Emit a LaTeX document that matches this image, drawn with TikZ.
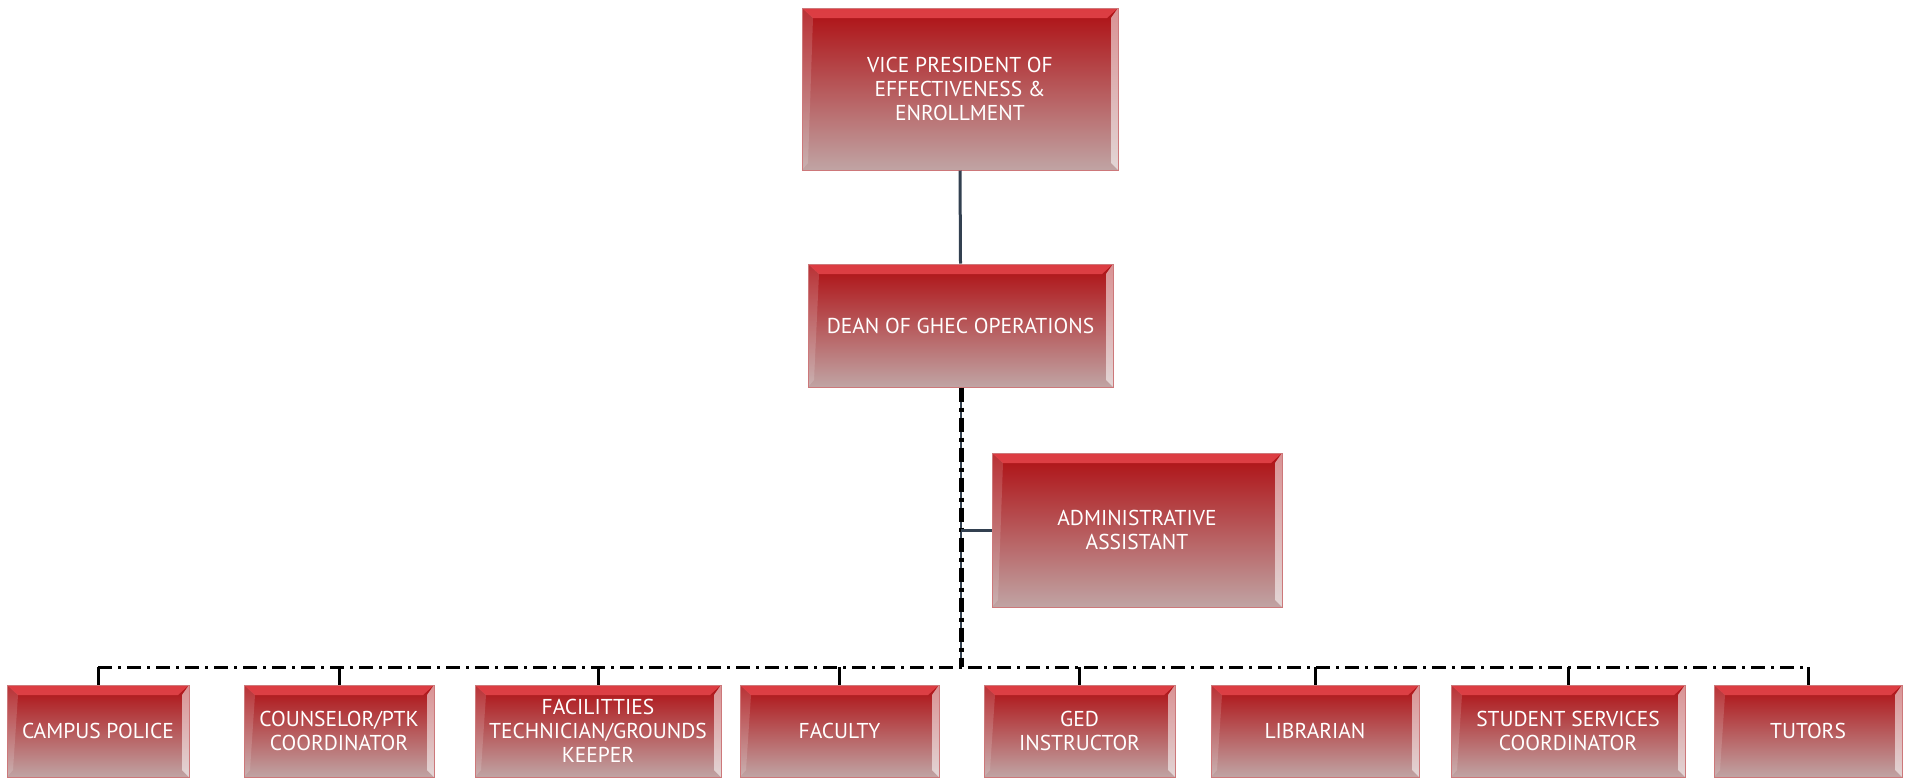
\documentclass[tikz,border=0pt]{standalone}
\usepackage{fontspec}
\setmainfont{PT Sans}
\definecolor{ctop}{RGB}{174,14,18}
\definecolor{cmid}{RGB}{166,70,72}
\definecolor{cbot}{RGB}{192,164,164}
\definecolor{cedge}{RGB}{205,120,122}
\definecolor{slate}{RGB}{50,64,80}
\definecolor{hilite}{RGB}{232,72,78}
\begin{document}
\begin{tikzpicture}[x=1pt,y=-1pt,
  bx/.style={rectangle, draw=cedge, line width=1pt, inner sep=0pt,
    top color=ctop, middle color=cmid, bottom color=cbot,
    text=white, align=center,
    font=\fontsize{21.5}{24}\selectfont,
    path picture={
      \fill[hilite,opacity=0.8] (path picture bounding box.north west) -- (path picture bounding box.north east)
        -- ([xshift=-11pt,yshift=-10pt]path picture bounding box.north east) -- ([xshift=11pt,yshift=-10pt]path picture bounding box.north west) -- cycle;
      \fill[white,opacity=0.55] (path picture bounding box.north east) -- (path picture bounding box.south east)
        -- ([xshift=-7pt,yshift=7pt]path picture bounding box.south east) -- ([xshift=-7pt,yshift=-10pt]path picture bounding box.north east) -- cycle;
      \fill[white,opacity=0.15] (path picture bounding box.north west) -- (path picture bounding box.south west)
        -- ([xshift=6pt,yshift=7pt]path picture bounding box.south west) -- ([xshift=11pt,yshift=-10pt]path picture bounding box.north west) -- cycle;
    }},
  solidc/.style={draw=slate, line width=3pt},
  dashc/.style={draw=black, line width=3pt, dash pattern=on 14pt off 6pt on 3pt off 6pt},
  dashv/.style={draw=black, line width=5pt, dash pattern=on 14pt off 6pt on 4pt off 6pt},
  stub/.style={draw=black, line width=3pt}]
\useasboundingbox (0,0) rectangle (1908,777);
\clip (0,0) rectangle (1908,777);
\fill[white] (0,0) rectangle (1908,777);

\node[bx, minimum width=316pt, minimum height=162pt] (vp) at (960,89) {VICE PRESIDENT OF\\EFFECTIVENESS \&\\ENROLLMENT};
\node[bx, minimum width=305pt, minimum height=123pt] (dean) at (960.5,325.5) {DEAN OF GHEC OPERATIONS};
\node[bx, minimum width=290pt, minimum height=154pt] (adm) at (1137,530) {ADMINISTRATIVE\\ASSISTANT};

\node[bx, minimum width=182pt, minimum height=92pt] (cp) at (98,731) {CAMPUS POLICE};
\node[bx, minimum width=190pt, minimum height=92pt] (co) at (339,731) {COUNSELOR/PTK\\COORDINATOR};
\node[bx, minimum width=246pt, minimum height=92pt] (fa) at (598,731) {FACILITTIES\\TECHNICIAN/GROUNDS\\KEEPER};
\node[bx, minimum width=199pt, minimum height=92pt] (fc) at (839.5,731) {FACULTY};
\node[bx, minimum width=191pt, minimum height=92pt] (ge) at (1079.5,731) {GED\\INSTRUCTOR};
\node[bx, minimum width=208pt, minimum height=92pt] (li) at (1315,731) {LIBRARIAN};
\node[bx, minimum width=234pt, minimum height=92pt] (ss) at (1568,731) {STUDENT SERVICES\\COORDINATOR};
\node[bx, minimum width=188pt, minimum height=92pt] (tu) at (1808,731) {TUTORS};

\coordinate (bus) at (961,667);
\coordinate (deanb) at ([xshift=0.5pt]dean.south);

\draw[solidc] (vp.south) -- (dean.north);
\draw[draw=slate, line width=1.5pt] (deanb) -- (deanb |- bus);
\draw[dashv] (deanb) -- (deanb |- bus);
\draw[solidc] (deanb |- adm.west) -- (adm.west);

\draw[dashc] (cp.north |- bus) -- (tu.north |- bus);
\foreach \n in {cp,co,fa,fc,ge,li,ss,tu}{
  \draw[stub] (\n.north |- bus) -- (\n.north);
}
\end{tikzpicture}
\end{document}
